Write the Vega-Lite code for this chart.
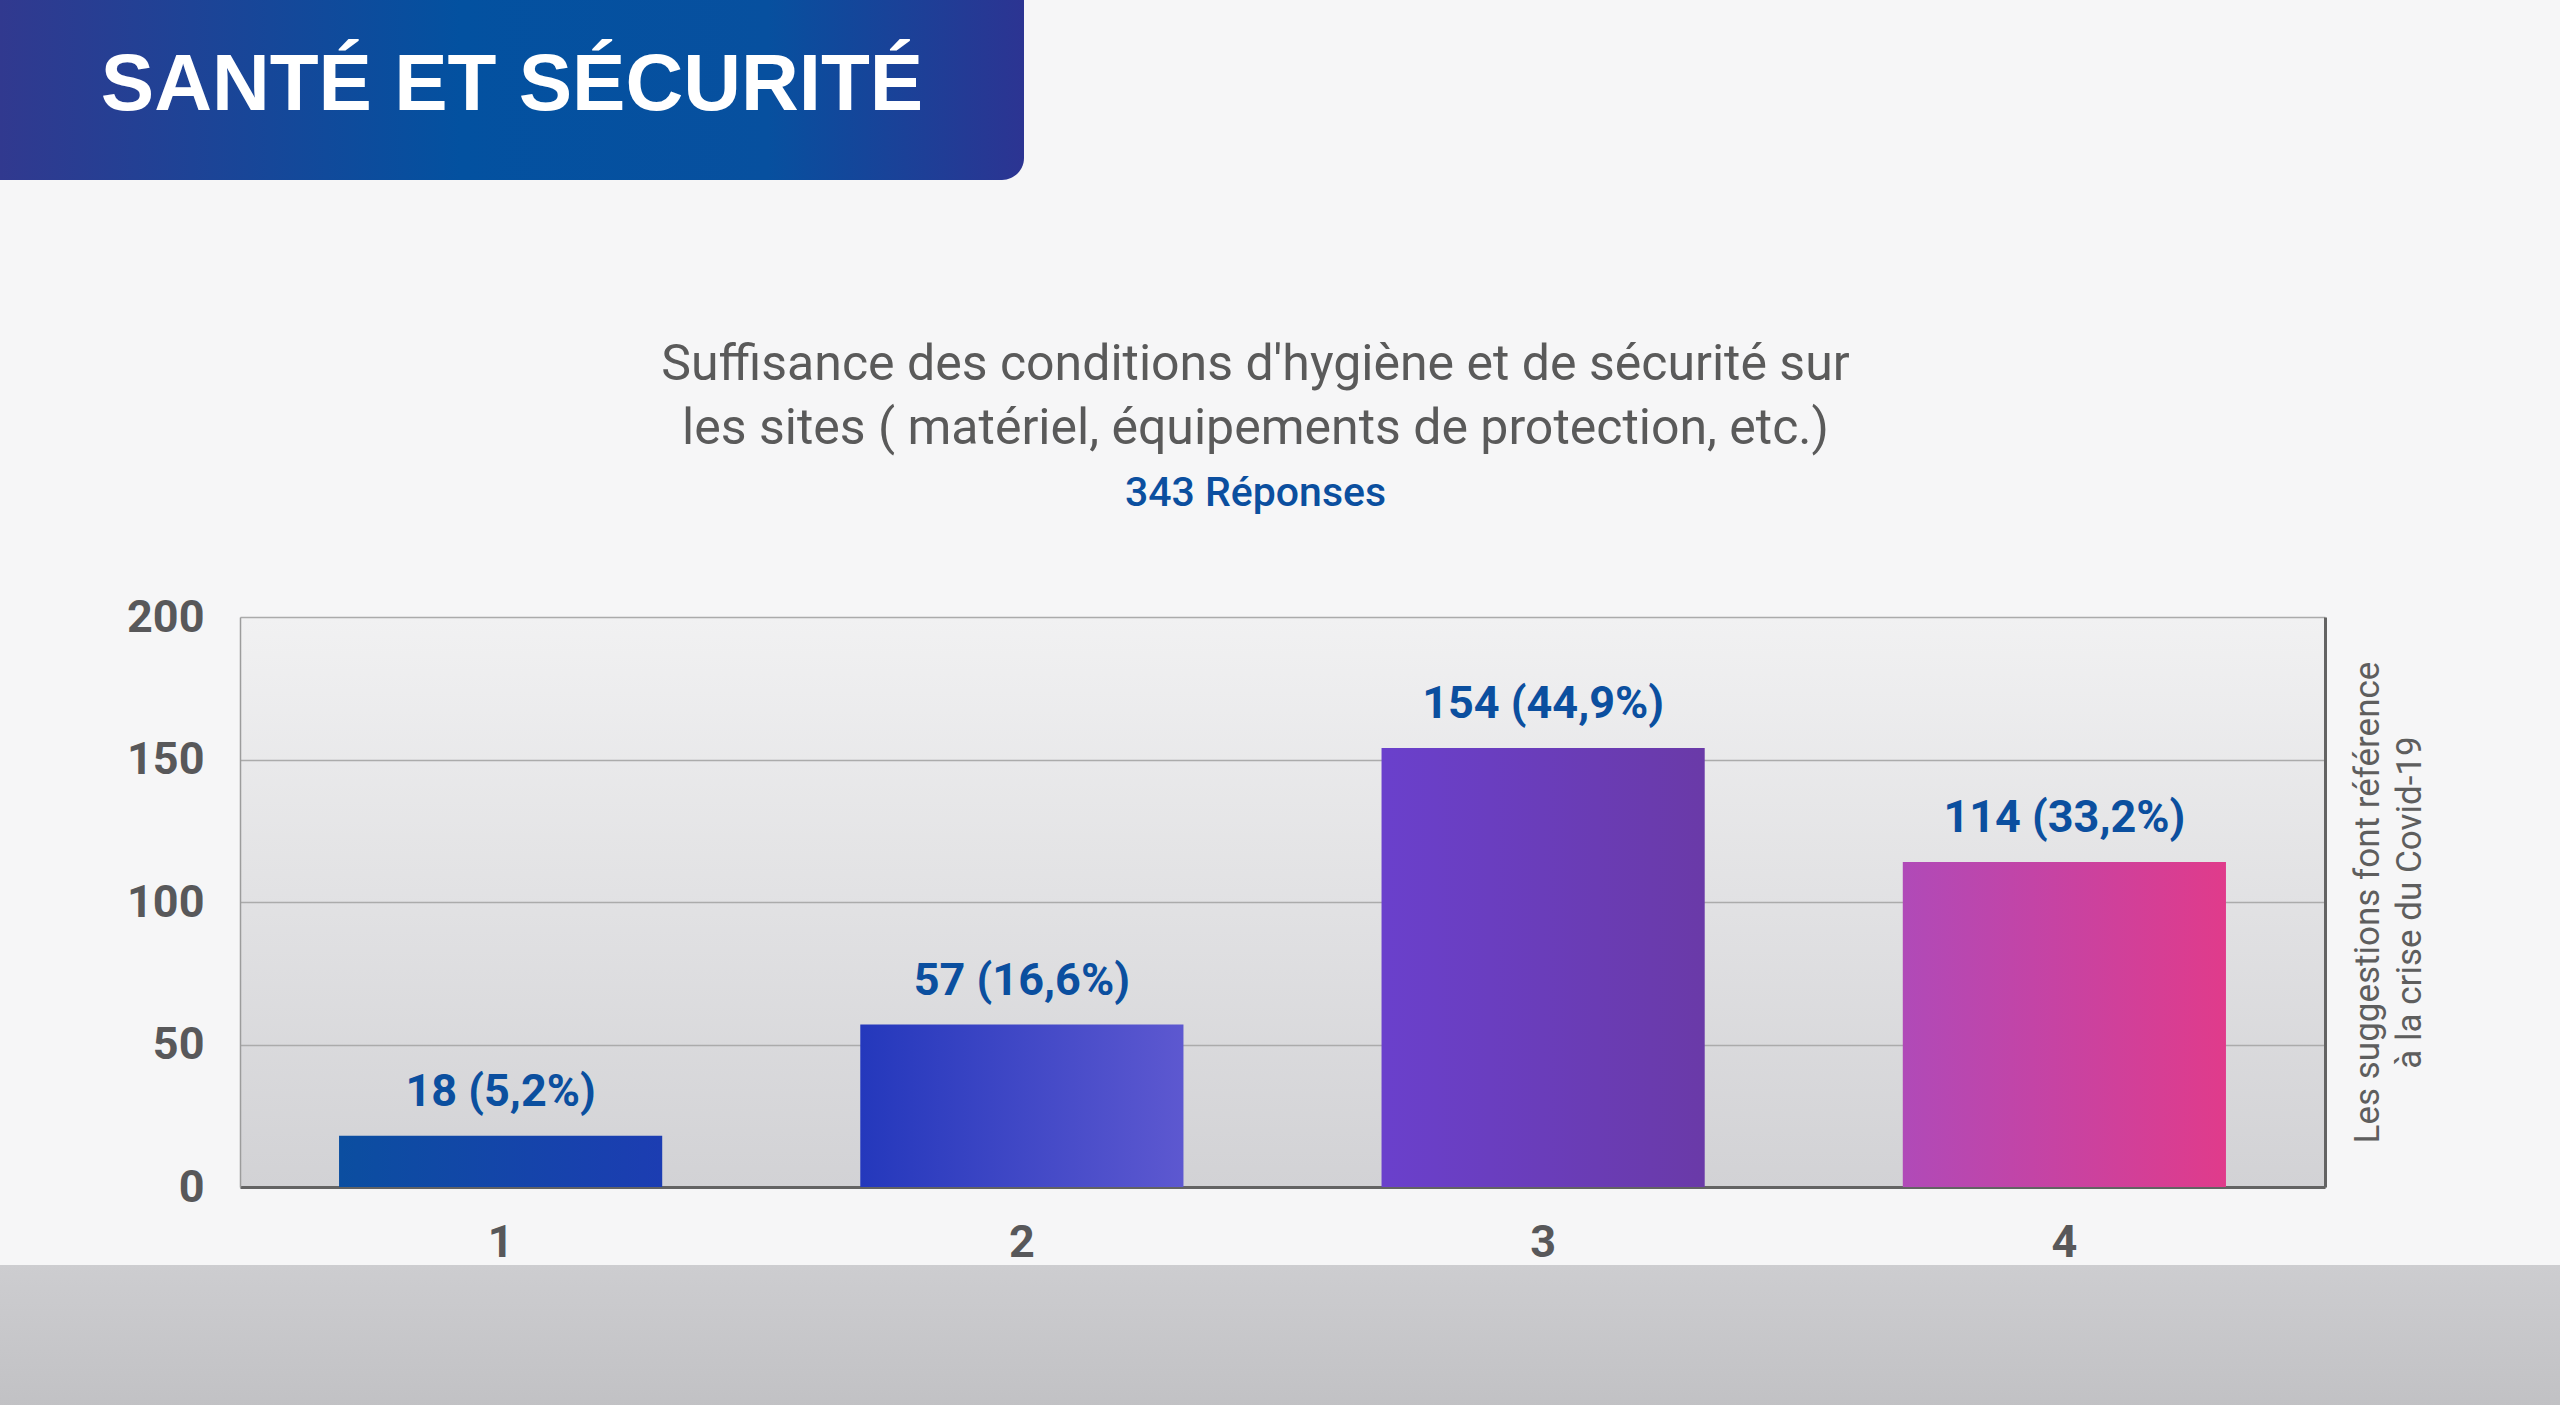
{
  "$schema": "https://vega.github.io/schema/vega-lite/v6.json",
  "padding": 0,
  "background": "#f6f6f7",
  "spacing": 160,
  "config": {"view": {"stroke": null}, "font": "Roboto"},
  "vconcat": [
    {
      "width": 1024,
      "height": 180,
      "data": {"values": [{"banner": "SANTÉ ET SÉCURITÉ"}]},
      "layer": [
        {
          "mark": {
            "type": "rect",
            "cornerRadiusBottomRight": 22,
            "fill": {"gradient": "linear", "x1": 0, "y1": 0, "x2": 1, "y2": 0,
              "stops": [{"offset": 0, "color": "#31398f"}, {"offset": 0.45, "color": "#0351a0"}, {"offset": 0.75, "color": "#07509f"}, {"offset": 1, "color": "#2c3492"}]}
          },
          "encoding": {}
        },
        {
          "mark": {"type": "text", "font": "Liberation Sans", "fontWeight": "bold", "fontSize": 80, "fill": "#ffffff", "baseline": "middle", "align": "center", "dy": -4},
          "encoding": {"text": {"field": "banner"}}
        }
      ]
    },
    {
      "spacing": 0,
      "vconcat": [
        {
          "spacing": 0,
          "hconcat": [
            {
              "width": 1,
              "height": 1,
              "data": {"values": [{"spacer": 0}]},
              "mark": {"type": "rect", "opacity": 0},
              "encoding": {}
            },
            {
              "width": 2085,
              "height": 570,
              "view": {"stroke": null, "fill": {"gradient": "linear", "x1": 0, "y1": 0, "x2": 0, "y2": 1,
                "stops": [{"offset": 0, "color": "#f1f1f2"}, {"offset": 1, "color": "#d2d2d5"}]}},
              "title": {
                "text": ["Suffisance des conditions d'hygiène et de sécurité sur", "les sites ( matériel, équipements de protection, etc.)"],
                "subtitle": "343 Réponses",
                "anchor": "middle",
                "frame": "group",
                "dx": -27,
                "font": "Roboto",
                "fontSize": 50,
                "fontWeight": "normal",
                "color": "#5a5a5a",
                "lineHeight": 64,
                "subtitleFont": "Roboto",
                "subtitleFontSize": 41,
                "subtitleFontWeight": 500,
                "subtitleColor": "#0b4f9f",
                "subtitlePadding": 20,
                "offset": 81
              },
              "data": {"values": [
                {"cat": "1", "count": 18, "label": "18 (5,2%)"},
                {"cat": "2", "count": 57, "label": "57 (16,6%)"},
                {"cat": "3", "count": 154, "label": "154 (44,9%)"},
                {"cat": "4", "count": 114, "label": "114 (33,2%)"}
              ]},
              "encoding": {
                "x": {
                  "field": "cat", "type": "nominal",
                  "scale": {"paddingInner": 0.38, "paddingOuter": 0.19},
                  "axis": {
                    "title": null, "labelAngle": 0, "ticks": false, "grid": false,
                    "domain": true, "domainColor": "#636363", "domainWidth": 3,
                    "labelFont": "Roboto", "labelFontWeight": "bold", "labelFontSize": 45,
                    "labelColor": "#58585a", "labelPadding": 33
                  }
                }
              },
              "layer": [
                {
                  "mark": {"type": "bar"},
                  "encoding": {
                    "y": {
                      "field": "count", "type": "quantitative",
                      "scale": {"domain": [0, 200]},
                      "axis": {
                        "orient": "left", "title": null, "values": [0, 50, 100, 150, 200],
                        "grid": true, "gridColor": "#ababab", "gridWidth": 1.5,
                        "domain": true, "domainColor": "#9c9c9c", "domainWidth": 1.5,
                        "ticks": false, "labelFont": "Roboto", "labelFontWeight": "bold",
                        "labelFontSize": 45, "labelColor": "#58585a", "labelPadding": 36,
                        "minExtent": 239, "maxExtent": 239
                      }
                    },
                    "fill": {
                      "condition": [
                        {"test": "datum.cat === '1'", "value": {"gradient": "linear", "x1": 0, "y1": 0, "x2": 1, "y2": 0, "stops": [{"offset": 0, "color": "#0b4ea0"}, {"offset": 1, "color": "#1c3db2"}]}},
                        {"test": "datum.cat === '2'", "value": {"gradient": "linear", "x1": 0, "y1": 0, "x2": 1, "y2": 0, "stops": [{"offset": 0, "color": "#2438bc"}, {"offset": 1, "color": "#5d58d0"}]}},
                        {"test": "datum.cat === '3'", "value": {"gradient": "linear", "x1": 0, "y1": 0, "x2": 1, "y2": 0, "stops": [{"offset": 0, "color": "#6a40cc"}, {"offset": 1, "color": "#6a3aa8"}]}}
                      ],
                      "value": {"gradient": "linear", "x1": 0, "y1": 0, "x2": 1, "y2": 0, "stops": [{"offset": 0, "color": "#b04ab8"}, {"offset": 1, "color": "#e03b8b"}]}
                    }
                  }
                },
                {
                  "mark": {"type": "text", "font": "Roboto", "fontWeight": "bold", "fontSize": 45, "fill": "#0b4f9f", "baseline": "alphabetic", "dy": -30},
                  "encoding": {
                    "y": {
                      "field": "count", "type": "quantitative",
                      "scale": {"domain": [0, 200]},
                      "axis": {
                        "orient": "right", "labels": false, "ticks": false, "grid": false,
                        "domain": true, "domainColor": "#636363", "domainWidth": 3,
                        "title": ["Les suggestions font référence", "à la crise du Covid-19"],
                        "titleAngle": 270, "titleBaseline": "top", "titleAlign": "center",
                        "titleFont": "Roboto", "titleFontWeight": "normal", "titleFontSize": 35,
                        "titleColor": "#5e5e5e", "titleLineHeight": 42, "titlePadding": -17,
                        "minExtent": 0, "maxExtent": 0
                      }
                    },
                    "text": {"field": "label"}
                  }
                }
              ],
              "resolve": {"axis": {"y": "independent"}}
            }
          ]
        },
        {
          "width": 2560,
          "height": 145,
          "data": {"values": [{"band": "footer"}]},
          "mark": {
            "type": "rect",
            "fill": {"gradient": "linear", "x1": 0, "y1": 0, "x2": 0, "y2": 1,
              "stops": [{"offset": 0, "color": "#cdcdd0"}, {"offset": 1, "color": "#c1c1c4"}]}
          },
          "encoding": {}
        }
      ]
    }
  ]
}
